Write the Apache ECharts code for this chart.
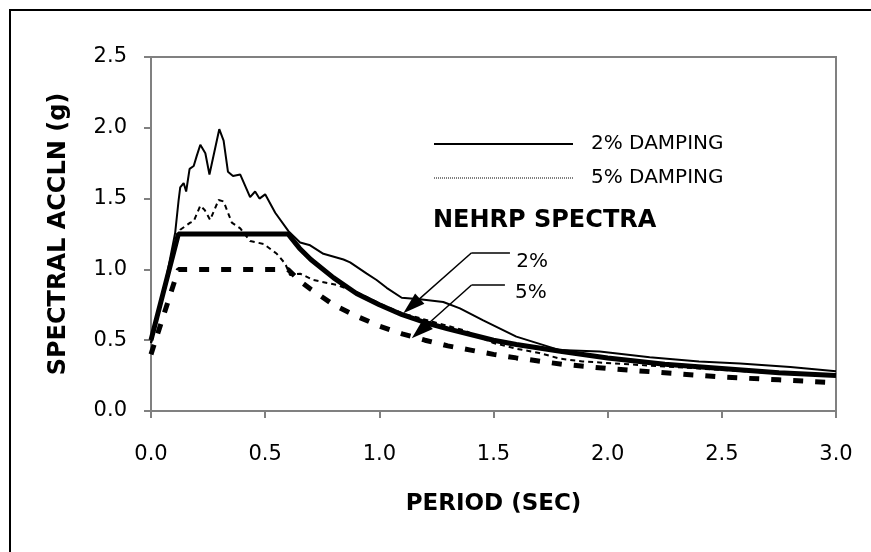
<!DOCTYPE html>
<html>
<head>
<meta charset="utf-8">
<script src="https://cdn.jsdelivr.net/npm/echarts@6/dist/echarts.min.js"></script>
<style>
  html, body { margin: 0; padding: 0; background: #fff; }
  #chart { width: 871px; height: 552px; }
</style>
</head>
<body>
<div id="chart"></div>
<script>
// period (sec) / spectral accln (g)
var period2 = [0, 0.05, 0.106, 0.121, 0.128, 0.143, 0.154, 0.169, 0.187, 0.2, 0.216, 0.238, 0.256, 0.299, 0.318, 0.337, 0.359, 0.391, 0.434, 0.456, 0.475, 0.5, 0.544, 0.602, 0.653, 0.697, 0.755, 0.843, 0.872, 0.945, 0.988, 1.032, 1.098, 1.178, 1.28, 1.353, 1.455, 1.6, 1.79, 1.965, 2.184, 2.4, 2.58, 2.8, 3.0];
var accel2  = [0.48, 0.8, 1.26, 1.49, 1.58, 1.61, 1.55, 1.71, 1.73, 1.8, 1.88, 1.82, 1.67, 1.99, 1.91, 1.69, 1.66, 1.67, 1.51, 1.55, 1.5, 1.53, 1.4, 1.27, 1.19, 1.17, 1.11, 1.07, 1.05, 0.97, 0.925, 0.87, 0.8, 0.79, 0.77, 0.725, 0.64, 0.525, 0.43, 0.42, 0.38, 0.35, 0.335, 0.31, 0.28];

var period5 = [0, 0.05, 0.106, 0.128, 0.172, 0.187, 0.216, 0.235, 0.259, 0.296, 0.318, 0.354, 0.391, 0.434, 0.493, 0.551, 0.588, 0.609, 0.653, 0.711, 0.814, 0.9, 1.0, 1.1, 1.19, 1.28, 1.37, 1.5, 1.6, 1.7, 1.79, 1.89, 1.99, 2.14, 2.4, 2.7, 3.0];
var accel5  = [0.48, 0.8, 1.2, 1.28, 1.33, 1.34, 1.45, 1.42, 1.35, 1.49, 1.48, 1.33, 1.29, 1.2, 1.18, 1.11, 1.04, 0.96, 0.97, 0.925, 0.89, 0.84, 0.76, 0.69, 0.65, 0.61, 0.57, 0.48, 0.44, 0.41, 0.37, 0.35, 0.34, 0.325, 0.3, 0.27, 0.25];

var periodN = [0, 0.12, 0.6, 0.65, 0.7, 0.8, 0.9, 1.0, 1.1, 1.2, 1.3, 1.4, 1.5, 1.6, 1.8, 2.0, 2.25, 2.5, 2.75, 3.0];
var nehrp2  = [0.5, 1.25, 1.25, 1.15, 1.07, 0.94, 0.83, 0.75, 0.68, 0.625, 0.58, 0.54, 0.5, 0.47, 0.42, 0.375, 0.33, 0.3, 0.27, 0.25];
var nehrp5  = [0.4, 1.0, 1.0, 0.92, 0.86, 0.75, 0.67, 0.6, 0.545, 0.5, 0.46, 0.43, 0.4, 0.375, 0.33, 0.3, 0.27, 0.24, 0.22, 0.2];

var xTicks = [0, 0.5, 1.0, 1.5, 2.0, 2.5, 3.0];
var yTicks = [0, 0.5, 1.0, 1.5, 2.0, 2.5];

function pairs(xs, ys) {
  return xs.map(function (x, i) { return [x, ys[i]]; });
}

var FONT = '"DejaVu Sans", "Liberation Sans", Arial, sans-serif';
var chart = echarts.init(document.getElementById('chart'));

var hideSymbol = { color: 'rgba(0,0,0,0)', borderWidth: 0 };
var arrowHead = { symbol: 'triangle', symbolSize: [14, 22] };

var option = {
  backgroundColor: '#fff',
  animation: false,
  color: ['#000'],
  grid: { left: 151, top: 57, right: 35, bottom: 141, show: true, borderColor: '#808080', borderWidth: 2 },
  legend: {
    orient: 'vertical', left: 428, top: 123,
    itemWidth: 139, itemHeight: 14, itemGap: 2,
    textStyle: { fontFamily: FONT, fontSize: 20, color: '#000', lineHeight: 20, padding: [12, 0, 0, 13] },
    data: [
      { name: '2% DAMPING', itemStyle: hideSymbol, lineStyle: { type: 'solid', width: 2, color: '#000' } },
      { name: '5% DAMPING', itemStyle: hideSymbol, lineStyle: { type: 'dotted', width: 1, color: '#000' } }
    ]
  },
  xAxis: {
    type: 'value', min: xTicks[0], max: xTicks[xTicks.length - 1], interval: 0.5,
    name: 'PERIOD (SEC)', nameLocation: 'middle', nameGap: 82,
    nameTextStyle: { fontFamily: FONT, fontSize: 23, fontWeight: 'bold', color: '#000' },
    axisLine: { lineStyle: { color: '#808080', width: 2 } },
    axisTick: { inside: false, length: 7, lineStyle: { color: '#808080', width: 2 } },
    axisLabel: { margin: 33, fontFamily: FONT, fontSize: 21, color: '#000', formatter: function (v) { return v.toFixed(1); } },
    splitLine: { show: false }
  },
  yAxis: {
    type: 'value', min: yTicks[0], max: yTicks[yTicks.length - 1], interval: 0.5,
    name: 'SPECTRAL ACCLN (g)', nameLocation: 'middle', nameGap: 80, nameRotate: 90,
    nameTextStyle: { fontFamily: FONT, fontSize: 24, fontWeight: 'bold', color: '#000' },
    axisLine: { show: true, lineStyle: { color: '#808080', width: 2 } },
    axisTick: { show: true, inside: false, length: 7, lineStyle: { color: '#808080', width: 2 } },
    axisLabel: { margin: 24, fontFamily: FONT, fontSize: 21, color: '#000', formatter: function (v) { return v.toFixed(1); } },
    splitLine: { show: false }
  },
  series: [
    {
      name: 'NEHRP 5%', type: 'line', symbol: 'none', z: 2,
      data: pairs(periodN, nehrp5),
      lineStyle: { color: '#000', width: 5, type: [10, 12] }
    },
    {
      name: 'NEHRP 2%', type: 'line', symbol: 'none', z: 3,
      data: pairs(periodN, nehrp2),
      lineStyle: { color: '#000', width: 5 },
      markLine: {
        silent: true, symbol: ['none', 'none'],
        lineStyle: { color: '#000', width: 1.5, type: 'solid' },
        itemStyle: { color: '#000' },
        label: { show: false },
        data: [
          [{ coord: [1.404, 1.118] }, { coord: [1.572, 1.118] }],
          [{ coord: [1.404, 1.118] }, Object.assign({ coord: [1.141, 0.742] }, arrowHead)],
          [{ coord: [1.404, 0.89] }, { coord: [1.55, 0.89] }],
          [{ coord: [1.404, 0.89] }, Object.assign({ coord: [1.178, 0.565] }, arrowHead)]
        ]
      },
      markPoint: {
        silent: true, symbol: 'circle', symbolSize: 0,
        label: { show: true, position: 'right', distance: 0, fontFamily: FONT, fontSize: 20, color: '#000' },
        data: [
          { coord: [1.6, 1.052], label: { formatter: '2%' } },
          { coord: [1.594, 0.833], label: { formatter: '5%' } }
        ]
      }
    },
    {
      name: '5% DAMPING', type: 'line', symbol: 'none', z: 4,
      data: pairs(period5, accel5),
      itemStyle: { color: '#000' },
      lineStyle: { color: '#000', width: 2, type: [5, 4] }
    },
    {
      name: '2% DAMPING', type: 'line', symbol: 'none', z: 5,
      data: pairs(period2, accel2),
      itemStyle: { color: '#000' },
      lineStyle: { color: '#000', width: 2 }
    }
  ],
  graphic: [
    { type: 'rect', silent: true, shape: { x: 10, y: 10, width: 900, height: 620 },
      style: { fill: 'none', stroke: '#000', lineWidth: 2 } },
    { type: 'text', left: 433, top: 209, silent: true,
      style: { text: 'NEHRP SPECTRA', fill: '#000', font: 'bold 24px ' + FONT } }
  ]
};
chart.setOption(option);
</script>
</body>
</html>
